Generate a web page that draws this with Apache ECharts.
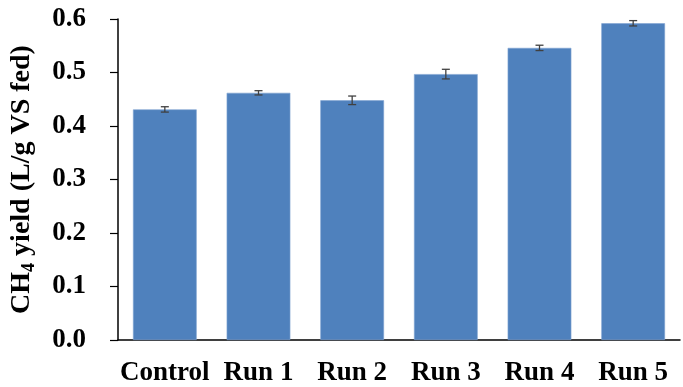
<!DOCTYPE html>
<html>
<head>
<meta charset="utf-8">
<script src="https://cdn.jsdelivr.net/npm/echarts@6/dist/echarts.min.js"></script>
<style>
  html, body { margin: 0; padding: 0; background: #fff; }
  #chart { width: 683px; height: 387px; }
</style>
</head>
<body>
<div id="chart"></div>
<script>
// data
const categories = ['Control', 'Run 1', 'Run 2', 'Run 3', 'Run 4', 'Run 5'];
const yieldValues = [0.431, 0.462, 0.448, 0.497, 0.546, 0.592];
const yieldErrors = [0.005, 0.004, 0.008, 0.009, 0.005, 0.005];
const yTicks = ['0.0', '0.1', '0.2', '0.3', '0.4', '0.5', '0.6'];

const font = '"Liberation Serif", "Times New Roman", serif';

const chart = echarts.init(document.getElementById('chart'), null, { renderer: 'canvas' });

chart.setOption({
  animation: false,
  grid: { left: 118, right: 3, top: 19, bottom: 47 },
  xAxis: {
    type: 'category',
    data: categories,
    axisLine: { lineStyle: { color: '#000', width: 1.5 } },
    axisTick: { show: false },
    axisLabel: {
      interval: 0, hideOverlap: false,
      color: '#000', fontFamily: font, fontWeight: 'bold', fontSize: 27, margin: 20
    }
  },
  yAxis: {
    type: 'value',
    min: 0, max: 0.6, interval: 0.1,
    splitLine: { show: false },
    axisLine: { show: true, lineStyle: { color: '#000', width: 1.5 } },
    axisTick: { show: true, length: 8, lineStyle: { color: '#000', width: 1.2 } },
    axisLabel: {
      color: '#000', fontFamily: font, fontWeight: 'bold', fontSize: 27, margin: 32,
      formatter: (v) => yTicks[Math.round(v * 10)]
    },
    name: '{m|CH}{s|4}{m| yield (L/g VS fed)}',
    nameLocation: 'middle',
    nameRotate: 90,
    nameGap: 80,
    nameTextStyle: {
      rich: {
        m: { fontFamily: font, fontWeight: 'bold', fontSize: 28, color: '#000', lineHeight: 32 },
        s: { fontFamily: font, fontWeight: 'bold', fontSize: 18, color: '#000', lineHeight: 32, verticalAlign: 'bottom', padding: [10, 0, 0, 0] }
      }
    }
  },
  series: [
    {
      type: 'bar',
      data: yieldValues,
      barWidth: '68%',
      itemStyle: { color: '#4F81BD', borderColor: '#7FA3D1', borderWidth: 0.6 }
    },
    {
      type: 'custom',
      data: yieldValues.map((v, i) => [i, v - yieldErrors[i], v + yieldErrors[i]]),
      z: 10,
      renderItem: function (params, api) {
        const lo = api.coord([api.value(0), api.value(1)]);
        const hi = api.coord([api.value(0), api.value(2)]);
        const cap = 4;
        const style = { stroke: '#404040', lineWidth: 1.3 };
        return {
          type: 'group',
          children: [
            { type: 'line', shape: { x1: lo[0], y1: lo[1], x2: hi[0], y2: hi[1] }, style },
            { type: 'line', shape: { x1: lo[0] - cap, y1: lo[1], x2: lo[0] + cap, y2: lo[1] }, style },
            { type: 'line', shape: { x1: hi[0] - cap, y1: hi[1], x2: hi[0] + cap, y2: hi[1] }, style }
          ]
        };
      }
    }
  ]
});
</script>
</body>
</html>
